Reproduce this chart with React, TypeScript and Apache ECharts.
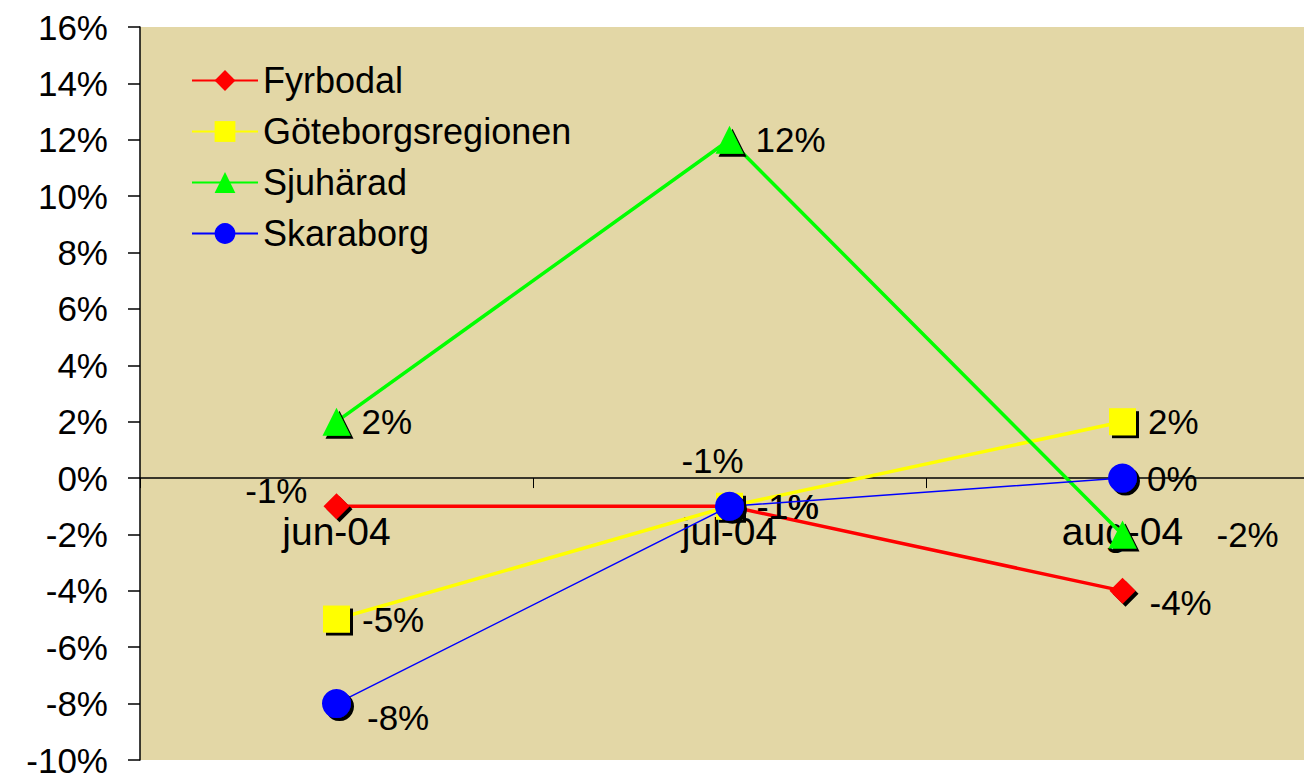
import React, { useEffect, useRef } from "react";
import * as echarts from "echarts";

const categories = ["jun-04", "jul-04", "aug-04"];
const seriesNames = ["Fyrbodal", "Göteborgsregionen", "Sjuhärad", "Skaraborg"];
const fyrbodal = [-1, -1, -4];
const goteborg = [-5, -1, 2];
const sjuharad = [2, 12, -2];
const skaraborg = [-8, -1, 0];
const yTicks = [-10, -8, -6, -4, -2, 0, 2, 4, 6, 8, 10, 12, 14, 16];

const FONT = "'Liberation Sans', Arial, sans-serif";

export default function App() {
  const ref = useRef<HTMLDivElement>(null);
  useEffect(() => {
    document.body.style.margin = "0";
    const chart = echarts.init(ref.current!, undefined, { renderer: "svg" });
    const shadow = { shadowColor: "#000", shadowOffsetX: 3, shadowOffsetY: 3, shadowBlur: 0 };
    const lbl = (extra: any) => ({
      show: true,
      fontSize: 35,
      fontFamily: FONT,
      color: "#000",
      formatter: (p: any) => p.value + "%",
      ...extra,
    });
    const mk = (vals: number[], labels: any[]) =>
      vals.map((v, i) => ({ value: v, label: labels[i] }));

    const series: any[] = [
      {
        name: seriesNames[0],
        type: "line",
        data: mk(fyrbodal, [
          lbl({ position: "left", distance: 16, offset: [0, -16] }),
          lbl({ position: "right", distance: 14, offset: [0, 0] }),
          lbl({ position: "right", distance: 14, offset: [0, 12] }),
        ]),
        symbol: "diamond",
        symbolSize: 26,
        lineStyle: { color: "#FF0000", width: 3.5 },
        itemStyle: { color: "#FF0000", ...shadow },
        z: 3,
      },
      {
        name: seriesNames[1],
        type: "line",
        data: mk(goteborg, [
          lbl({ position: "right", distance: 12 }),
          lbl({ position: "right", distance: 14 }),
          lbl({ position: "right", distance: 12 }),
        ]),
        symbol: "rect",
        symbolSize: 27,
        lineStyle: { color: "#FFFF00", width: 3.5 },
        itemStyle: { color: "#FFFF00", ...shadow },
        z: 4,
      },
      {
        name: seriesNames[2],
        type: "line",
        data: mk(sjuharad, [
          lbl({ position: "right", distance: 11 }),
          lbl({ position: "right", distance: 12 }),
          lbl({ position: "right", distance: 80 }),
        ]),
        symbol: "triangle",
        symbolSize: 28,
        lineStyle: { color: "#00FF00", width: 3.5 },
        itemStyle: { color: "#00FF00", ...shadow },
        z: 5,
      },
      {
        name: seriesNames[3],
        type: "line",
        data: mk(skaraborg, [
          lbl({ position: "right", distance: 16, offset: [0, 14] }),
          lbl({ position: "top", distance: 14, offset: [-17, 0] }),
          lbl({ position: "right", distance: 10 }),
        ]),
        symbol: "circle",
        symbolSize: 29,
        lineStyle: { color: "#0000FF", width: 1.5 },
        itemStyle: { color: "#0000FF", ...shadow },
        z: 6,
      },
    ];

    const gridTop = 27;
    const gridBottom = 14;
    const gridH = 774 - gridTop - gridBottom;
    const yMin = yTicks[0];
    const yMax = yTicks[yTicks.length - 1];
    const zeroOffset = -(gridH * (0 - yMin)) / (yMax - yMin);

    chart.setOption({
      animation: false,
      backgroundColor: "#FFFFFF",
      textStyle: { fontFamily: FONT },
      grid: {
        left: 140,
        right: -15,
        top: gridTop,
        bottom: gridBottom,
        containLabel: false,
        outerBoundsMode: "none",
        show: true,
        backgroundColor: "#E3D7A6",
        borderWidth: 0,
      },
      legend: {
        left: 186,
        top: 57,
        orient: "vertical",
        itemWidth: 66,
        itemHeight: 26,
        itemGap: 14,
        data: seriesNames,
        textStyle: { fontSize: 36, lineHeight: 37, fontFamily: FONT, color: "#000" },
      },
      xAxis: {
        type: "category",
        data: categories,
        boundaryGap: true,
        position: "bottom",
        offset: zeroOffset,
        axisLine: { onZero: false, lineStyle: { color: "#000", width: 1.5 } },
        axisTick: { show: true, length: 10, lineStyle: { color: "#000" } },
        axisLabel: { fontSize: 39, fontFamily: FONT, color: "#000", margin: 34 },
        splitLine: { show: false },
        z: 1,
      },
      yAxis: {
        type: "value",
        min: yMin,
        max: yMax,
        interval: 2,
        axisLine: { show: true, lineStyle: { color: "#000", width: 1.5 } },
        axisTick: { show: true, length: 12, lineStyle: { color: "#000", width: 1.5 } },
        axisLabel: {
          fontSize: 35,
          fontFamily: FONT,
          color: "#000",
          margin: 32,
          formatter: (v: number) => v + "%",
        },
        splitLine: { show: false },
      },
      series,
    });
    return () => chart.dispose();
  }, []);
  return (
    <div
      ref={ref}
      style={{ position: "absolute", left: 0, top: 0, width: 1304, height: 774 }}
    />
  );
}
